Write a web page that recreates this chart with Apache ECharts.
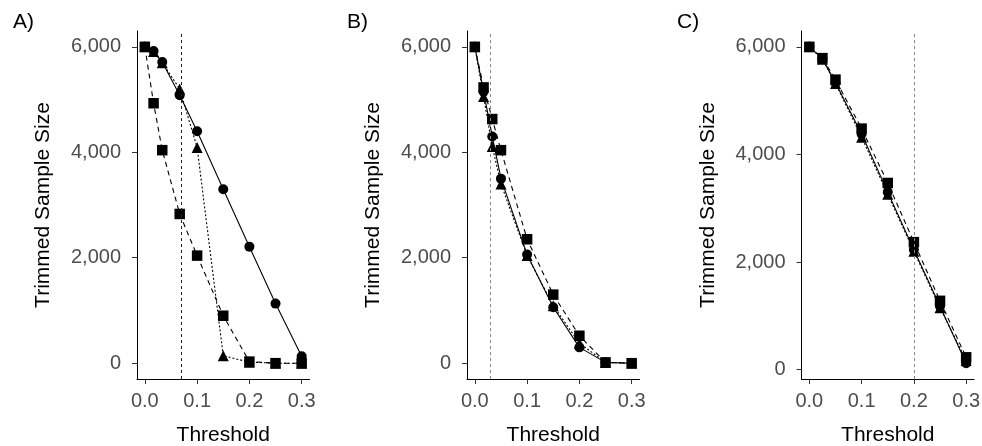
<!DOCTYPE html>
<html><head><meta charset="utf-8">
<script src="https://cdn.jsdelivr.net/npm/echarts@6/dist/echarts.min.js"></script>
<style>html,body{margin:0;padding:0;background:#fff}#c{width:982px;height:446px}</style>
</head><body><div id="c"></div>
<script>
// Panel A
const A_x = [0, 0.0167, 0.0333, 0.0667, 0.1, 0.15, 0.2, 0.25, 0.3];
const A_circle = [6000, 5920, 5710, 5080, 4400, 3300, 2210, 1130, 130];
const A_triangle = [6000, 5910, 5700, 5200, 4090, 140, 20, 0, 0];
const A_square = [6000, 4930, 4040, 2830, 2040, 900, 30, 0, 0];
const A_ref = 0.0667;
// Panel B
const B_x = [0, 0.0167, 0.0333, 0.05, 0.1, 0.15, 0.2, 0.25, 0.3];
const B_circle = [6000, 5150, 4300, 3500, 2060, 1060, 300, 15, 0];
const B_triangle = [6000, 5060, 4110, 3400, 2040, 1090, 380, 15, 0];
const B_square = [6000, 5230, 4630, 4040, 2350, 1300, 520, 15, 0];
const B_ref = 0.0333;
// Panel C
const C_x = [0, 0.025, 0.05, 0.1, 0.15, 0.2, 0.25, 0.3];
const C_circle = [6000, 5780, 5330, 4380, 3300, 2230, 1180, 120];
const C_triangle = [6000, 5770, 5320, 4320, 3260, 2200, 1150, 170];
const C_square = [6000, 5790, 5390, 4480, 3470, 2370, 1280, 230];
const C_ref = 0.2;

const panelLabels = ['A)', 'B)', 'C)'];
const xTicks = [0, 0.1, 0.2, 0.3];
const yTicks = [0, 2000, 4000, 6000];
const xTitle = 'Threshold';
const yTitle = 'Trimmed Sample Size';

const FONT = 'Liberation Sans, Arial, sans-serif';
const panels = [
  {x: A_x, c: A_circle, t: A_triangle, s: A_square, ref: A_ref, left: 137, ymin: -300, ymax: 6300},
  {x: B_x, c: B_circle, t: B_triangle, s: B_square, ref: B_ref, left: 467, ymin: -300, ymax: 6300},
  {x: C_x, c: C_circle, t: C_triangle, s: C_square, ref: C_ref, left: 801.5, ymin: -173, ymax: 6294}
];
const labelX = [13, 347, 677];

const grids = [], xAxes = [], yAxes = [], series = [];
const pair = (xs, ys) => xs.map((v, i) => [v, ys[i]]);
panels.forEach((p, i) => {
  grids.push({left: p.left, top: 31, width: 172.5, height: 348, containLabel: false, outerBoundsMode: 'none'});
  xAxes.push({
    type: 'value', gridIndex: i, min: -0.015, max: 0.315,
    name: xTitle, nameLocation: 'middle', nameGap: 46,
    nameTextStyle: {fontFamily: FONT, fontSize: 21, color: '#000'},
    axisLine: {show: true, onZero: false, lineStyle: {color: '#000', width: 1}},
    axisTick: {show: true, length: 5, lineStyle: {color: '#333'}, customValues: xTicks},
    axisLabel: {fontFamily: FONT, fontSize: 20, color: '#4D4D4D', margin: 12,
      customValues: xTicks, formatter: v => v.toFixed(1)},
    splitLine: {show: false}
  });
  yAxes.push({
    type: 'value', gridIndex: i, min: p.ymin, max: p.ymax,
    name: yTitle, nameLocation: 'middle', nameGap: 83, nameRotate: 90,
    nameTextStyle: {fontFamily: FONT, fontSize: 21, color: '#000'},
    axisLine: {show: true, onZero: false, lineStyle: {color: '#000', width: 1}},
    axisTick: {show: true, length: 5, lineStyle: {color: '#333'}, customValues: yTicks},
    axisLabel: {fontFamily: FONT, fontSize: 20, color: '#4D4D4D', margin: 16,
      customValues: yTicks, formatter: v => v.toLocaleString('en-US')},
    splitLine: {show: false}
  });
  const common = {type: 'line', xAxisIndex: i, yAxisIndex: i, animation: false,
    itemStyle: {color: '#000'}, emphasis: {disabled: true}};
  series.push(Object.assign({}, common, {
    data: pair(p.x, p.c), symbol: 'circle', symbolSize: 10,
    lineStyle: {color: '#000', width: 1.1, type: 'solid'},
    markLine: {silent: true, symbol: 'none', label: {show: false}, animation: false,
      lineStyle: {color: i === 0 ? '#222' : '#888', width: 1, type: [3, 3]},
      data: [{xAxis: p.ref}]}
  }));
  series.push(Object.assign({}, common, {
    data: pair(p.x, p.t), symbol: 'triangle', symbolSize: 11,
    lineStyle: {color: '#000', width: 1.1, type: [2, 2]}
  }));
  series.push(Object.assign({}, common, {
    data: pair(p.x, p.s), symbol: 'rect', symbolSize: 10.5,
    lineStyle: {color: '#000', width: 1.1, type: [5, 4]}
  }));
});

const graphic = panelLabels.map((t, i) => ({
  type: 'text', left: labelX[i], top: 12,
  style: {text: t, font: '21px ' + FONT, fill: '#000'}
}));

const chart = echarts.init(document.getElementById('c'), null, {renderer: 'canvas'});
chart.setOption({
  animation: false, backgroundColor: '#fff',
  grid: grids, xAxis: xAxes, yAxis: yAxes, series: series, graphic: graphic
});
</script></body></html>
